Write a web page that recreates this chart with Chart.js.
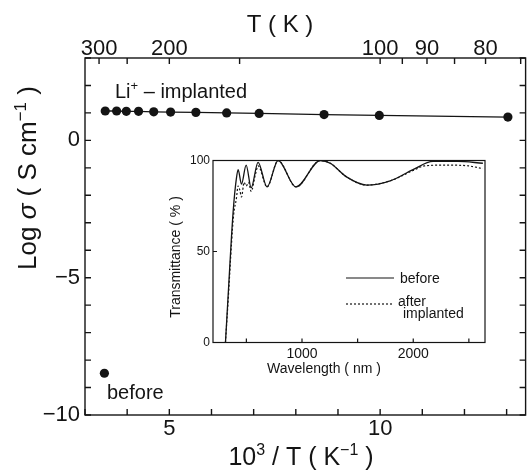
<!DOCTYPE html>
<html>
<head>
<meta charset="utf-8">
<script src="https://cdn.jsdelivr.net/npm/chart.js@4"></script>
<style>
  html, body { margin: 0; padding: 0; background: #fff; }
  #wrap { position: relative; width: 532px; height: 476px; }
  #wrap canvas { position: absolute; left: 0; top: 0; }
</style>
</head>
<body>
<div id="wrap">
  <canvas id="mainChart" width="532" height="476"></canvas>
  <canvas id="insetChart" width="532" height="476"></canvas>
</div>
<script>
// main plot: log conductivity against 1000/T
const invT = [3.48, 3.75, 3.98, 4.27, 4.63, 5.03, 5.63, 6.36, 7.13, 8.67, 9.98, 13.03];
const logSigmaImplanted = [1.07, 1.07, 1.06, 1.06, 1.04, 1.03, 1.02, 1.00, 0.98, 0.94, 0.91, 0.85];
const invTBefore = [3.46];
const logSigmaBefore = [-8.48];

const xTicks = [3, 4, 5, 6, 7, 8, 9, 10, 11, 12, 13];
const xLabels = [5, 10];
const yTicks = [-10, -9, -8, -7, -6, -5, -4, -3, -2, -1, 0, 1, 2, 3];
const yLabels = [-10, -5, 0];
const tTicks = [300, 250, 200, 150, 100, 95, 90, 85, 80, 75];
const tLabels = [300, 200, 100, 90, 80];

// inset: transmittance spectra
const wlBefore = [312, 340, 366, 385, 410, 426, 456, 498, 543, 605, 686, 785, 946, 1164, 1254, 1400, 1583, 1800, 1998, 2178, 2400, 2626];
const trBefore = [0, 30, 58, 75, 90, 95, 87, 97.5, 85, 99, 85.5, 100, 85.5, 100, 98.5, 91, 86.5, 89, 95, 99.5, 99.5, 98.5];
const wlAfter = [312, 340, 366, 385, 410, 426, 440, 456, 480, 498, 520, 543, 580, 605, 686, 785, 946, 1164, 1254, 1400, 1583, 1800, 1998, 2100, 2300, 2500, 2626];
const trAfter = [0, 27, 54, 70, 79, 86, 84, 80, 88, 86, 88, 83, 92, 97, 85.5, 100, 85.5, 100, 98.5, 91, 86.5, 89, 94.5, 97, 97.5, 97, 95.5];
const wlTicks = [500, 1000, 1500, 2000, 2500];
const wlLabels = [1000, 2000];
const trTicks = [0, 50, 100];

const FONT = '"Liberation Sans", Arial, Helvetica, sans-serif';
const INK = '#141414';

function pairs(xs, ys) {
    return xs.map((x, i) => ({ x: x, y: ys[i] }));
}

// 枠と内向きの目盛り
const frameTicks = {
    id: 'frameTicks',
    afterDraw(chart, args, opts) {
        const ctx = chart.ctx;
        const a = chart.chartArea;
        ctx.save();
        ctx.strokeStyle = INK;
        ctx.lineWidth = opts.width;
        ctx.strokeRect(a.left, a.top, a.right - a.left, a.bottom - a.top);
        ctx.beginPath();
        Object.values(chart.scales).forEach(s => {
            s.ticks.forEach(t => {
                const p = s.getPixelForValue(t.value);
                if (s.position === 'bottom') {
                    ctx.moveTo(p, a.bottom); ctx.lineTo(p, a.bottom - opts.len);
                } else if (s.position === 'top') {
                    ctx.moveTo(p, a.top); ctx.lineTo(p, a.top + opts.len);
                } else if (s.position === 'left') {
                    ctx.moveTo(a.left, p); ctx.lineTo(a.left + opts.len, p);
                    if (opts.mirrorY) { ctx.moveTo(a.right, p); ctx.lineTo(a.right - opts.len, p); }
                }
            });
        });
        ctx.stroke();
        ctx.restore();
    }
};

// テキスト（上付き・斜体を含む）
function drawParts(ctx, item) {
    const size = item.size;
    const fontOf = kind => (kind === 'it' ? 'italic ' : '') + (kind === 'sup' ? Math.round(size * 0.64) : size) + 'px ' + FONT;
    let total = 0;
    const widths = item.parts.map(p => {
        ctx.font = fontOf(p[1]);
        const w = ctx.measureText(p[0]).width;
        total += w;
        return w;
    });
    ctx.save();
    ctx.translate(item.x, item.y);
    if (item.rot) ctx.rotate(item.rot);
    let x = item.align === 'center' ? -total / 2 : (item.align === 'right' ? -total : 0);
    ctx.fillStyle = INK;
    ctx.textBaseline = 'alphabetic';
    ctx.textAlign = 'left';
    item.parts.forEach((p, i) => {
        ctx.font = fontOf(p[1]);
        ctx.fillText(p[0], x, p[1] === 'sup' ? -size * 0.4 : 0);
        x += widths[i];
    });
    ctx.restore();
}

const figureText = {
    id: 'figureText',
    afterDraw(chart, args, opts) {
        (opts.items || []).forEach(item => drawParts(chart.ctx, item));
    }
};

// 凡例（インセット）
const insetLegend = {
    id: 'insetLegend',
    afterDraw(chart, args, opts) {
        const ctx = chart.ctx;
        ctx.save();
        ctx.strokeStyle = INK;
        ctx.lineWidth = 1.2;
        opts.rows.forEach(r => {
            ctx.setLineDash(r.dash);
            ctx.beginPath();
            ctx.moveTo(opts.x0, r.y);
            ctx.lineTo(opts.x1, r.y);
            ctx.stroke();
        });
        ctx.restore();
    }
};

const tickFont = { family: FONT, size: 22 };
const noGrid = { display: false, drawTicks: false, tickLength: 0 };

const mainChart = new Chart(document.getElementById('mainChart').getContext('2d'), {
    type: 'scatter',
    data: {
        datasets: [
            {
                label: 'Li+ - implanted',
                data: pairs(invT, logSigmaImplanted),
                showLine: true,
                borderColor: INK,
                borderWidth: 1.3,
                pointRadius: 4.6,
                pointBackgroundColor: INK,
                pointBorderWidth: 0,
                xAxisID: 'x',
                yAxisID: 'y'
            },
            {
                label: 'before',
                data: pairs(invTBefore, logSigmaBefore),
                pointRadius: 4.6,
                pointBackgroundColor: INK,
                pointBorderWidth: 0,
                xAxisID: 'x',
                yAxisID: 'y'
            }
        ]
    },
    options: {
        responsive: false,
        animation: false,
        devicePixelRatio: 1,
        layout: { padding: { top: 0, right: 6.4, bottom: 0, left: 0 } },
        scales: {
            x: {
                type: 'linear', position: 'bottom', min: 3, max: 13.45,
                afterBuildTicks: s => { s.ticks = xTicks.map(v => ({ value: v })); },
                afterFit: s => { s.height = 61; },
                ticks: {
                    callback: v => xLabels.includes(v) ? String(v) : '',
                    font: tickFont, color: INK, padding: 1, maxRotation: 0, autoSkip: false
                },
                grid: noGrid,
                border: { display: false }
            },
            xT: {
                type: 'linear', position: 'top', min: 3, max: 13.45,
                afterBuildTicks: s => { s.ticks = tTicks.map(T => ({ value: 1000 / T })); },
                afterFit: s => { s.height = 58; },
                ticks: {
                    callback: v => {
                        const T = Math.round(1000 / v);
                        return tLabels.includes(T) ? String(T) : '';
                    },
                    font: tickFont, color: INK, padding: -4, maxRotation: 0, autoSkip: false
                },
                grid: noGrid,
                border: { display: false }
            },
            y: {
                type: 'linear', position: 'left', min: -10, max: 3,
                afterBuildTicks: s => { s.ticks = yTicks.map(v => ({ value: v })); },
                afterFit: s => { s.width = 85; },
                ticks: {
                    callback: v => yLabels.includes(v) ? String(v).replace('-', '\u2212') : '',
                    font: tickFont, color: INK, padding: 5, autoSkip: false
                },
                grid: noGrid,
                border: { display: false }
            }
        },
        plugins: {
            legend: { display: false },
            tooltip: { enabled: false },
            frameTicks: { width: 1.4, len: 6, mirrorY: true },
            figureText: {
                items: [
                    { parts: [['T ( K )']], x: 280, y: 31.5, size: 24, align: 'center' },
                    { parts: [['10'], ['3', 'sup'], [' / T ( K'], ['\u22121', 'sup'], [' )']], x: 301, y: 465, size: 25, align: 'center' },
                    { parts: [['Log '], ['\u03c3', 'it'], [' ( S cm'], ['\u22121', 'sup'], [' )']], x: 36, y: 178, size: 26, align: 'center', rot: -Math.PI / 2 },
                    { parts: [['Li'], ['+', 'sup'], [' \u2013 implanted']], x: 115, y: 98, size: 20 },
                    { parts: [['before']], x: 107, y: 399, size: 20 }
                ]
            }
        }
    },
    plugins: [frameTicks, figureText]
});

const insetChart = new Chart(document.getElementById('insetChart').getContext('2d'), {
    type: 'scatter',
    data: {
        datasets: [
            {
                label: 'before',
                data: pairs(wlBefore, trBefore),
                showLine: true,
                cubicInterpolationMode: 'monotone',
                borderColor: INK,
                borderWidth: 1.3,
                pointRadius: 0
            },
            {
                label: 'after implanted',
                data: pairs(wlAfter, trAfter),
                showLine: true,
                cubicInterpolationMode: 'monotone',
                borderColor: INK,
                borderWidth: 1.2,
                borderDash: [2, 2],
                pointRadius: 0
            }
        ]
    },
    options: {
        responsive: false,
        animation: false,
        devicePixelRatio: 1,
        layout: { padding: { left: 183, top: 160.5, right: 47, bottom: 108.5 } },
        scales: {
            x: {
                type: 'linear', position: 'bottom', min: 200, max: 2645,
                afterBuildTicks: s => { s.ticks = wlTicks.map(v => ({ value: v })); },
                afterFit: s => { s.height = 25; },
                ticks: {
                    callback: v => wlLabels.includes(v) ? String(v) : '',
                    font: { family: FONT, size: 14 }, color: INK, padding: 3, maxRotation: 0, autoSkip: false
                },
                grid: noGrid,
                border: { display: false }
            },
            y: {
                type: 'linear', position: 'left', min: 0, max: 100,
                afterBuildTicks: s => { s.ticks = trTicks.map(v => ({ value: v })); },
                afterFit: s => { s.width = 30; },
                ticks: {
                    font: { family: FONT, size: 12 }, color: INK, padding: 3, autoSkip: false
                },
                grid: noGrid,
                border: { display: false }
            }
        },
        plugins: {
            legend: { display: false },
            tooltip: { enabled: false },
            frameTicks: { width: 1.2, len: 4, mirrorY: false },
            insetLegend: { x0: 346, x1: 394, rows: [{ y: 278, dash: [] }, { y: 304, dash: [2, 2] }] },
            figureText: {
                items: [
                    { parts: [['Wavelength ( nm )']], x: 324, y: 373, size: 14, align: 'center' },
                    { parts: [['Transmittance ( % )']], x: 180, y: 257, size: 14, align: 'center', rot: -Math.PI / 2 },
                    { parts: [['before']], x: 400, y: 283, size: 14 },
                    { parts: [['after']], x: 398, y: 306, size: 14 },
                    { parts: [['implanted']], x: 403, y: 318, size: 14 }
                ]
            }
        }
    },
    plugins: [frameTicks, insetLegend, figureText]
});
</script>
</body>
</html>
